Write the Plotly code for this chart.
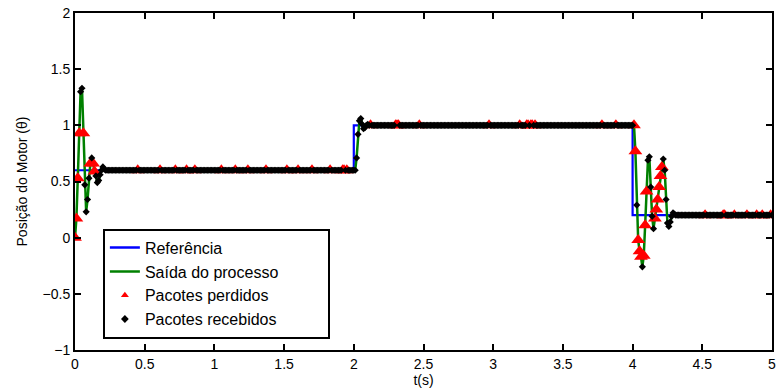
import numpy as np
import plotly.graph_objects as go

# sampling period of the networked control loop (s)
DT = 0.01

# reference set-point: level held between consecutive switching instants
REF_TIMES = [0.0, 2.0, 4.0, 5.0]
REF_LEVELS = [0.6, 1.0, 0.2]

# motor position samples during each transient (one value per sample, starting at the switch)
Y_TRANS_0 = [0.00, 0.17, 0.53, 0.93, 1.30, 1.33, 0.93, 0.47, 0.23, 0.34, 0.53,
             0.66, 0.71, 0.66, 0.59, 0.55, 0.49, 0.51, 0.56, 0.60, 0.63, 0.61]
Y_TRANS_2 = [0.60, 0.60, 0.71, 0.92, 1.04, 1.06, 1.01, 0.97, 0.98, 1.00, 1.01]
Y_TRANS_4 = [1.00, 1.00, 0.77, 0.29, -0.02, -0.12, -0.17, -0.26, -0.16, 0.11,
             0.41, 0.69, 0.72, 0.45, 0.19, 0.08, 0.17, 0.25, 0.34, 0.45, 0.55,
             0.63, 0.70, 0.60, 0.34, 0.13, 0.10, 0.14, 0.19, 0.22, 0.21]
TRANSIENTS = [Y_TRANS_0, Y_TRANS_2, Y_TRANS_4]

# instants (s) whose packets were lost on the network
LOST_T = [0.00, 0.01, 0.02, 0.03, 0.06, 0.11, 0.13, 0.14, 0.45, 0.61, 0.72,
          0.80, 0.86, 1.05, 1.15, 1.24, 1.37, 1.52, 1.60, 1.70, 1.83, 1.92,
          1.93, 1.95, 2.12, 2.30, 2.31, 2.32, 2.47, 2.97, 3.19, 3.24, 3.25,
          3.27, 3.28, 3.30, 3.78, 3.88, 4.01, 4.02, 4.04, 4.05, 4.06, 4.08,
          4.09, 4.10, 4.16, 4.17, 4.18, 4.19, 4.20, 4.21, 4.52, 4.65, 4.66,
          4.73, 4.82, 4.89, 4.93, 4.99]

# legend entries
SERIES_NAMES = ["Referência", "Saída do processo", "Pacotes perdidos", "Pacotes recebidos"]

# axis ticks
X_TICKS = [0, 0.5, 1, 1.5, 2, 2.5, 3, 3.5, 4, 4.5, 5]
X_TICK_TEXT = ["0", "0.5", "1", "1.5", "2", "2.5", "3", "3.5", "4", "4.5", "5"]
Y_TICKS = [-1, -0.5, 0, 0.5, 1, 1.5, 2]
Y_TICK_TEXT = ["\u22121", "\u22120.5", "0", "0.5", "1", "1.5", "2"]

# ---- assemble sampled signals ----
n = int(round(REF_TIMES[-1] / DT)) + 1
t = np.round(np.arange(n) * DT, 2)
ref = np.empty(n)
y = np.empty(n)
for i, level in enumerate(REF_LEVELS):
    k0 = int(round(REF_TIMES[i] / DT))
    k1 = n if i == len(REF_LEVELS) - 1 else int(round(REF_TIMES[i + 1] / DT))
    ref[k0:k1] = level
    y[k0:k1] = level
    tr = TRANSIENTS[i]
    y[k0:k0 + len(tr)] = tr

lost_idx = sorted({int(round(v / DT)) for v in LOST_T})
lost_mask = np.zeros(n, dtype=bool)
lost_mask[lost_idx] = True

# pad the longest entry so the legend box keeps some room on its right side
names = list(SERIES_NAMES)
names[1] = names[1] + "\u00a0" * 10

BLUE, GREEN, RED, BLACK = "#0000ff", "#008000", "#ff0000", "#000000"

fig = go.Figure()
# plotted data (legend handled by the entries below)
fig.add_trace(go.Scatter(
    x=t, y=ref, mode="lines", showlegend=False,
    line=dict(color=BLUE, width=2.2, shape="hv")))
fig.add_trace(go.Scatter(
    x=t, y=y, mode="lines", showlegend=False,
    line=dict(color=GREEN, width=2.5)))
fig.add_trace(go.Scatter(
    x=t[lost_mask], y=y[lost_mask], mode="markers", showlegend=False,
    marker=dict(symbol="triangle-up", color=RED, size=12, line=dict(width=0))))
fig.add_trace(go.Scatter(
    x=t[~lost_mask], y=y[~lost_mask], mode="markers", showlegend=False,
    marker=dict(symbol="diamond", color=BLACK, size=5.5, line=dict(width=0))))

# legend entries with compact symbols
fig.add_trace(go.Scatter(x=[None], y=[None], mode="lines", name=names[0],
                         line=dict(color=BLUE, width=2.5)))
fig.add_trace(go.Scatter(x=[None], y=[None], mode="lines", name=names[1],
                         line=dict(color=GREEN, width=2.5)))
fig.add_trace(go.Scatter(x=[None], y=[None], mode="markers", name=names[2],
                         marker=dict(symbol="triangle-up", color=RED, size=7, line=dict(width=0))))
fig.add_trace(go.Scatter(x=[None], y=[None], mode="markers", name=names[3],
                         marker=dict(symbol="diamond", color=BLACK, size=6, line=dict(width=0))))

axis_common = dict(
    showgrid=False, zeroline=False, showline=True, linecolor="black",
    linewidth=2, mirror="ticks", ticks="inside", ticklen=6, tickwidth=1.5,
    tickcolor="black", tickfont=dict(family="Liberation Sans, Arial", size=14, color="black"),
)

fig.update_layout(
    width=780, height=391,
    margin=dict(l=75, r=4, t=13, b=41),
    paper_bgcolor="white", plot_bgcolor="white",
    font=dict(family="Liberation Sans, Arial", color="black"),
    xaxis=dict(range=[0, 5], tickvals=X_TICKS, ticktext=X_TICK_TEXT,
               title=dict(text="t(s)", font=dict(size=14), standoff=2),
               **axis_common),
    yaxis=dict(range=[-1, 2], tickvals=Y_TICKS, ticktext=Y_TICK_TEXT,
               title=dict(text="Posição do Motor (θ)", font=dict(size=14), standoff=12),
               **axis_common),
    legend=dict(x=0.04, y=0.36, xanchor="left", yanchor="top",
                bgcolor="white", bordercolor="black", borderwidth=2,
                font=dict(family="Liberation Sans, Arial", size=16, color="black"),
                tracegroupgap=0),
    showlegend=True,
)

fig.write_html("out.html")
